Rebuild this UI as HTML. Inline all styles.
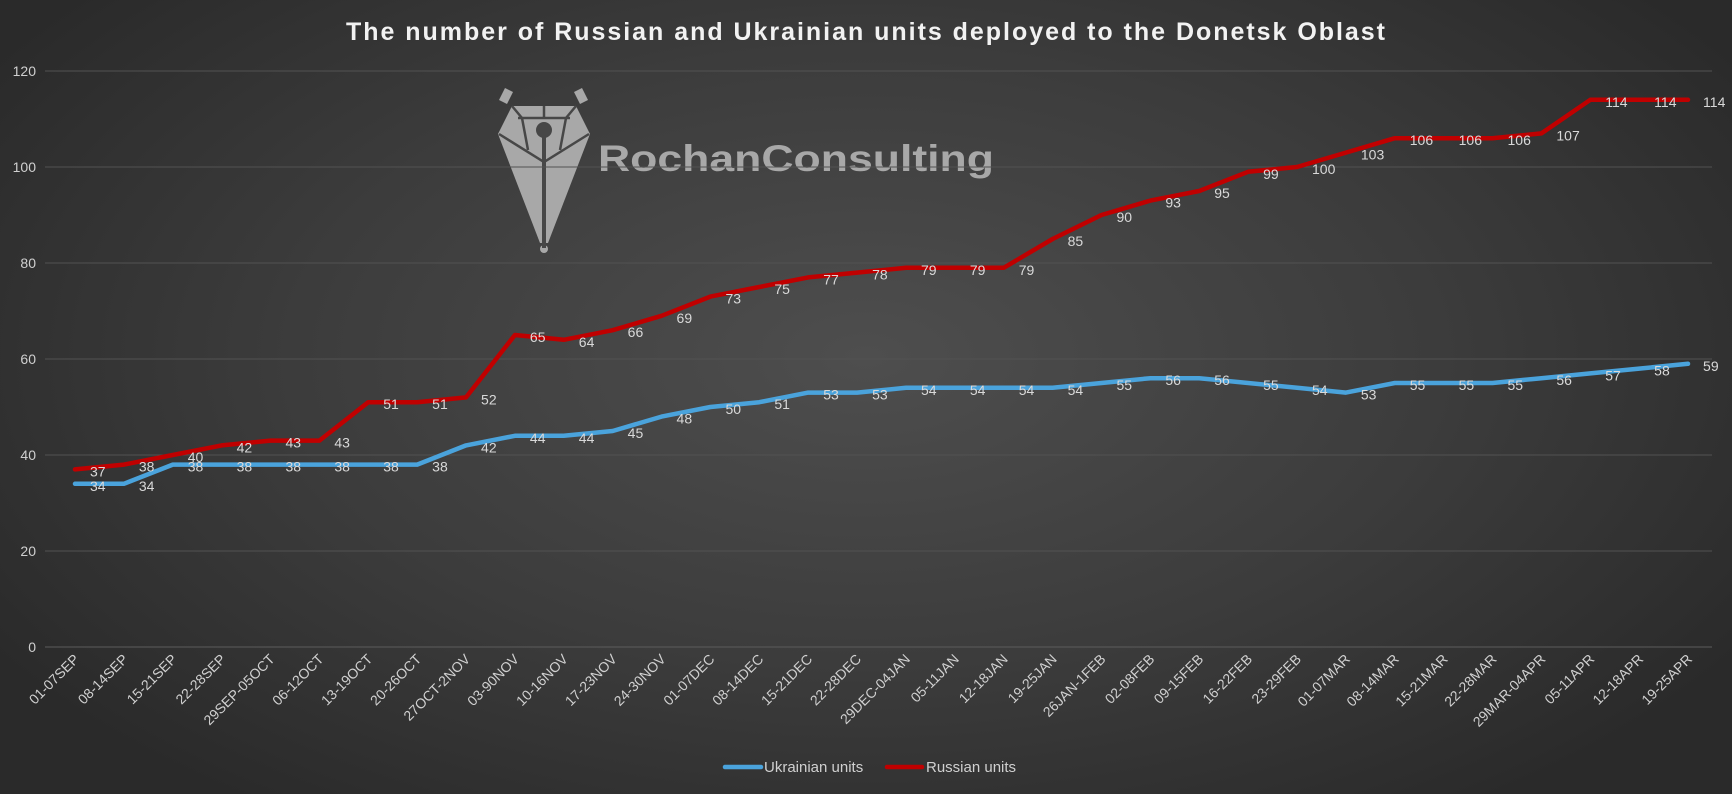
<!DOCTYPE html>
<html><head><meta charset="utf-8">
<style>
html,body{margin:0;padding:0;}
body{width:1732px;height:794px;overflow:hidden;background:radial-gradient(ellipse 60% 70% at 50% 45%,#4e4e4e 0%,#3c3c3c 55%,#2a2a2a 100%);font-family:"Liberation Sans",sans-serif;}
svg{position:absolute;left:0;top:0;}
</style></head><body>
<svg id="c" width="1732" height="794" xmlns="http://www.w3.org/2000/svg"></svg>
<script>
const U=[34,34,38,38,38,38,38,38,42,44,44,45,48,50,51,53,53,54,54,54,54,55,56,56,55,54,53,55,55,55,56,57,58,59];
const R=[37,38,40,42,43,43,51,51,52,65,64,66,69,73,75,77,78,79,79,79,85,90,93,95,99,100,103,106,106,106,107,114,114,114];
const L=["01-07SEP","08-14SEP","15-21SEP","22-28SEP","29SEP-05OCT","06-12OCT","13-19OCT","20-26OCT","27OCT-2NOV","03-90NOV","10-16NOV","17-23NOV","24-30NOV","01-07DEC","08-14DEC","15-21DEC","22-28DEC","29DEC-04JAN","05-11JAN","12-18JAN","19-25JAN","26JAN-1FEB","02-08FEB","09-15FEB","16-22FEB","23-29FEB","01-07MAR","08-14MAR","15-21MAR","22-28MAR","29MAR-04APR","05-11APR","12-18APR","19-25APR"];
const X=i=>75+i*48.88, Y=v=>647-v*4.8;
let s='';
// logo
s+=`<g fill="#a8a8a8">
<polygon points="505,88 513,92 507,104 499,100"/>
<polygon points="582,88 574,92 580,104 588,100"/>
<polygon points="498,134 512,106 576,106 590,134 548,243 540,243"/>
<circle cx="544" cy="249" r="4"/>
</g>
<g stroke="#474747" stroke-width="2.5" fill="none">
<polyline points="499,134 544,162 589,134"/>
<polyline points="512,106 522,118 528,150"/>
<polyline points="576,106 566,118 560,150"/>
<line x1="544" y1="106" x2="544" y2="118"/>
<line x1="518" y1="118" x2="570" y2="118"/>
</g>
<circle cx="544" cy="130" r="8" fill="#474747"/>
<rect x="542" y="130" width="4" height="118" fill="#474747"/>
<text x="598" y="171" font-size="37" font-weight="bold" fill="#a8a8a8" textLength="396" lengthAdjust="spacingAndGlyphs">RochanConsulting</text>`;
// grid
for(let v=0;v<=120;v+=20){const y=Y(v);s+=`<line x1="45" x2="1712" y1="${y}" y2="${y}" stroke="${v==0?'#5c5c5c':'#525252'}" stroke-width="1"/><text x="36" y="${y+5}" font-size="14" fill="#d0d0d0" text-anchor="end">${v}</text>`;}
// title
s+=`<text x="346" y="40" font-size="25" font-weight="bold" fill="#f2f2f2" textLength="1039" lengthAdjust="spacing">The number of Russian and Ukrainian units deployed to the Donetsk Oblast</text>`;
const pts=a=>a.map((v,i)=>X(i).toFixed(1)+','+Y(v).toFixed(1)).join(' ');
s+=`<polyline points="${pts(U)}" fill="none" stroke="#4aa3dc" stroke-width="4.5" stroke-linejoin="round" stroke-linecap="round"/>`;
s+=`<polyline points="${pts(R)}" fill="none" stroke="#c00000" stroke-width="4.5" stroke-linejoin="round" stroke-linecap="round"/>`;
U.forEach((v,i)=>{s+=`<text x="${X(i)+15}" y="${Y(v)+7}" font-size="14" fill="#d9d9d9">${v}</text>`;});
R.forEach((v,i)=>{s+=`<text x="${X(i)+15}" y="${Y(v)+7}" font-size="14" fill="#d9d9d9">${v}</text>`;});
L.forEach((t,i)=>{const x=X(i)+5,y=660;s+=`<text x="${x}" y="${y}" font-size="14" fill="#d0d0d0" text-anchor="end" transform="rotate(-45 ${x} ${y})">${t}</text>`;});
// legend
s+=`<line x1="725" x2="761" y1="767" y2="767" stroke="#4aa3dc" stroke-width="4.5" stroke-linecap="round"/><text x="764" y="772" font-size="15" fill="#d0d0d0">Ukrainian units</text>`;
s+=`<line x1="887" x2="922" y1="767" y2="767" stroke="#c00000" stroke-width="4.5" stroke-linecap="round"/><text x="926" y="772" font-size="15" fill="#d0d0d0">Russian units</text>`;
document.getElementById('c').innerHTML=s;
</script>
</body></html>
